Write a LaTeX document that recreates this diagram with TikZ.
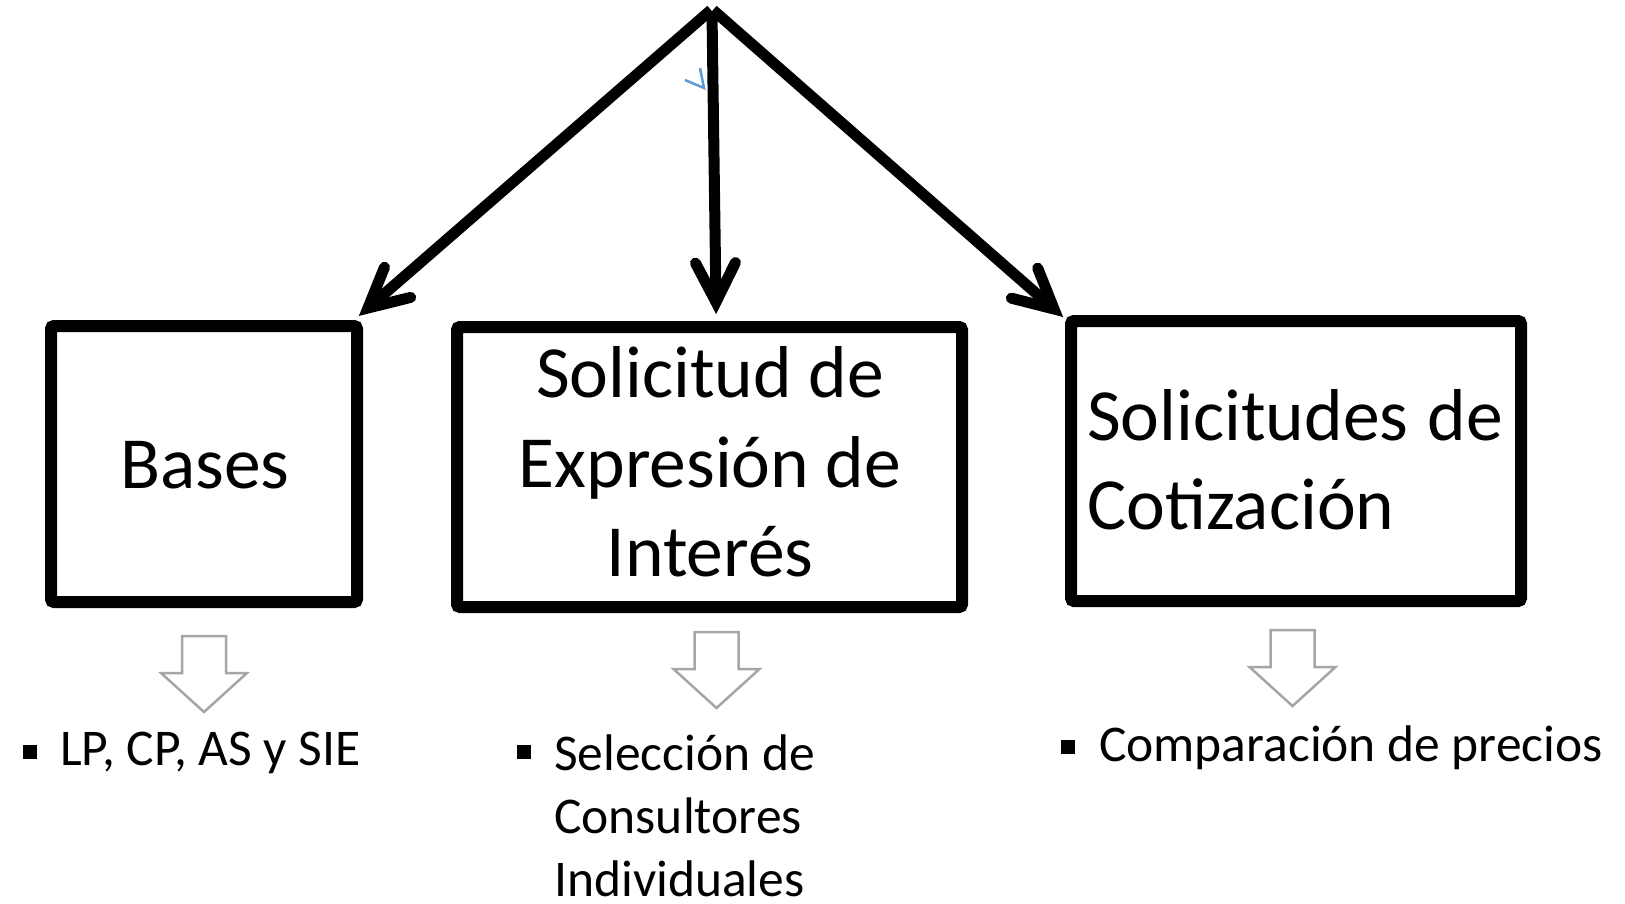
\documentclass[tikz,border=0pt]{standalone}
\usepackage{fontspec}
\setmainfont{Carlito}
\usetikzlibrary{calc}
\definecolor{arrowgray}{RGB}{166,166,166}
\definecolor{markblue}{RGB}{91,155,213}
\begin{document}
\begin{tikzpicture}[x=1pt,y=-1pt,
  box/.style={draw=black, line width=12pt, rounded corners=3pt, inner sep=0pt, fill=none},
  boxtext/.style={inner sep=0pt, anchor=base, font=\fontsize{73.5}{90}\selectfont},
  boxtextl/.style={inner sep=0pt, anchor=base west, font=\fontsize{73.5}{90}\selectfont},
  itemtext/.style={inner sep=0pt, anchor=base west, font=\fontsize{51.5}{64}\selectfont},
  bulletsq/.style={fill=black, draw=none, minimum size=14pt, inner sep=0pt},
  mainline/.style={draw=black, line width=11pt, line cap=butt},
  headline/.style={draw=black, line width=11pt, line cap=round, line join=miter},
  grayarrow/.style={draw=arrowgray, line width=2.5pt, line join=miter, fill=white},
  hollow/.pic={\draw[grayarrow] (-22,0) -- (22,0) -- (22,37) -- (43,37) -- (0,76) -- (-43,37) -- (-22,37) -- cycle;}
]
\useasboundingbox (0,0) rectangle (1625,903);

% boxes
\node[box, minimum width=306pt, minimum height=276pt] (b1) at (204,464) {};
\node[box, minimum width=505pt, minimum height=280pt] (b2) at (709.5,467) {};
\node[box, minimum width=450pt, minimum height=280pt] (b3) at (1296,461) {};

% box texts
\node[boxtext] (t1) at (205,488) {Bases};
\node[boxtext] (t2a) at (710,397) {Solicitud de};
\node[boxtext] (t2b) at (710,487) {Expresión de};
\node[boxtext] (t2c) at (710,576) {Interés};
\node[boxtextl] (t3a) at (1087,440) {Solicitudes\hspace{3pt} de};
\node[boxtextl] (t3b) at (1087,529) {Cotización};

% main arrows
\coordinate (apexL) at (711,10);
\coordinate (apexM) at (712,13);
\coordinate (apexR) at (713,10);
\coordinate (tipL) at (368,308);
\coordinate (tipM) at (716,302);
\coordinate (tipR) at (1054,309);
\draw[mainline] (apexL) -- (tipL);
\draw[mainline] (apexM) -- (tipM);
\draw[mainline] (apexR) -- (tipR);
\draw[headline] ($(tipL)!44pt!27:(apexL)$) -- (tipL) -- ($(tipL)!44pt!-27:(apexL)$);
\draw[headline] ($(tipM)!44pt!27:(apexM)$) -- (tipM) -- ($(tipM)!44pt!-27:(apexM)$);
\draw[headline] ($(tipR)!44pt!27:(apexR)$) -- (tipR) -- ($(tipR)!44pt!-27:(apexR)$);

% small blue mark
\draw[markblue, line width=2.5pt] (685,80) -- (704,88) -- (700,68);

% hollow gray arrows
\pic at (204,636) {hollow};
\pic at (716.5,632) {hollow};
\pic at (1292.5,630) {hollow};

% bullets
\node[bulletsq] (s1) at (29.5,751.5) {};
\node[itemtext] (i1) at (60,765) {LP, CP, AS y SIE};
\node[bulletsq] (s2) at (524,751.5) {};
\node[itemtext] (i2a) at (554,770) {Selección de};
\node[itemtext] (i2b) at (554,833) {Consultores};
\node[itemtext] (i2c) at (554,896) {Individuales};
\node[bulletsq] (s3) at (1068,747) {};
\node[itemtext] (i3) at (1099,761) {Comparación de precios};
\end{tikzpicture}
\end{document}
